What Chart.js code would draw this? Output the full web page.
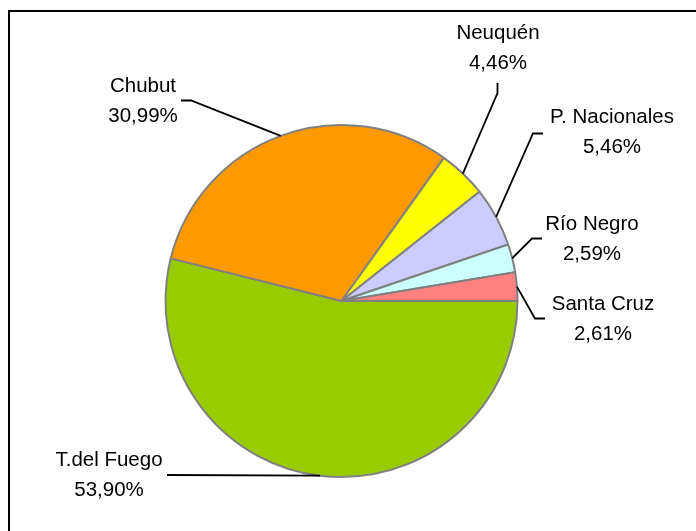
<!DOCTYPE html>
<html>
<head>
<meta charset="utf-8">
<script src="https://cdn.jsdelivr.net/npm/chart.js@4.4.1/dist/chart.umd.min.js"></script>
<style>
  body { margin: 0; background: #fff; }
  #wrap { width: 696px; height: 531px; position: relative; }
</style>
</head>
<body>
<div id="wrap"><canvas id="pieChart"></canvas></div>
<script>
// Data (clockwise from 3 o'clock)
const provincias = ['T.del Fuego', 'Chubut', 'Neuquén', 'P. Nacionales', 'Río Negro', 'Santa Cruz'];
const porcentajes = [53.90, 30.99, 4.46, 5.46, 2.59, 2.61];
const colores = ['#99CC00', '#FF9900', '#FFFF00', '#CCCCFF', '#CCFFFF', '#FF8080'];

// label layout: text centre x, first baseline y, leader line elbow + end
const labelPos = [
  { x: 109, y: 466, pts: [[167, 475]] },
  { x: 143, y: 92, pts: [[191, 100.5], [181, 100.5]] },
  { x: 498, y: 39, pts: [[497.5, 93], [497.5, 83]] },
  { x: 612, y: 123, pts: [[533, 133.5], [543, 133.5]] },
  { x: 592, y: 230, pts: [[532, 238.5], [542, 238.5]] },
  { x: 603, y: 310, pts: [[535, 318.5], [545, 318.5]] }
];

const fmtPct = v => v.toFixed(2).replace('.', ',') + '%';

const pieLabels = {
  id: 'pieLabels',
  beforeDraw(chart) {
    const ctx = chart.ctx;
    ctx.save();
    ctx.fillStyle = '#fff';
    ctx.fillRect(0, 0, chart.width, chart.height);
    // frame (only left/top visible)
    ctx.strokeStyle = '#000';
    ctx.lineWidth = 2;
    ctx.strokeRect(9, 11, 800, 700);
    ctx.restore();
  },
  afterDraw(chart) {
    const ctx = chart.ctx;
    const meta = chart.getDatasetMeta(0);
    ctx.save();
    ctx.strokeStyle = '#000';
    ctx.lineWidth = 1.8;
    ctx.fillStyle = '#000';
    ctx.font = '20.5px "Liberation Sans", Arial, sans-serif';
    ctx.textAlign = 'center';
    ctx.textBaseline = 'alphabetic';
    meta.data.forEach((arc, i) => {
      const p = arc.getProps(['x', 'y', 'startAngle', 'endAngle', 'outerRadius'], true);
      const mid = (p.startAngle + p.endAngle) / 2;
      const ax = p.x + Math.cos(mid) * p.outerRadius;
      const ay = p.y + Math.sin(mid) * p.outerRadius;
      const lp = labelPos[i];
      ctx.beginPath();
      ctx.moveTo(ax, ay);
      lp.pts.forEach(pt => ctx.lineTo(pt[0], pt[1]));
      ctx.stroke();
      ctx.fillText(provincias[i], lp.x, lp.y);
      ctx.fillText(fmtPct(porcentajes[i]), lp.x, lp.y + 30);
    });
    ctx.restore();
  }
};

new Chart(document.getElementById('pieChart'), {
  type: 'pie',
  data: {
    labels: provincias,
    datasets: [{
      data: porcentajes,
      backgroundColor: colores,
      borderColor: '#808080',
      borderWidth: 2,
      hoverOffset: 0,
      hoverBorderWidth: 2
    }]
  },
  options: {
    responsive: true,
    maintainAspectRatio: false,
    animation: false,
    rotation: 90,
    layout: {
      padding: { left: 164.5, right: 177.5, top: 124, bottom: 53 }
    },
    plugins: {
      legend: { display: false },
      tooltip: { enabled: false }
    }
  },
  plugins: [pieLabels]
});
</script>
</body>
</html>
